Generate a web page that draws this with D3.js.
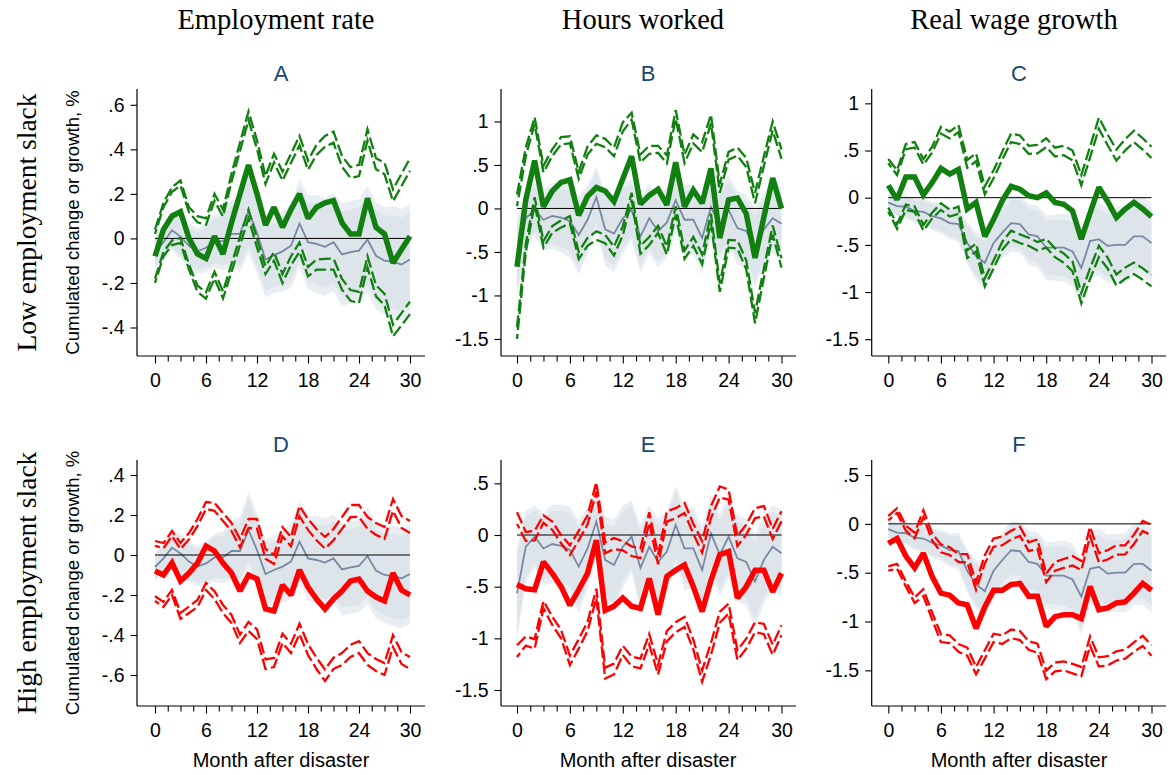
<!DOCTYPE html>
<html>
<head>
<meta charset="utf-8">
<script src="https://cdn.jsdelivr.net/npm/d3@7"></script>
<style>
  body { margin: 0; background: #fff; }
  svg text { font-family: "Liberation Sans", Arial, sans-serif; }
</style>
</head>
<body>
<svg id="chart"></svg>
<script>
// months after disaster
const months = [0,1,2,3,4,5,6,7,8,9,10,11,12,13,14,15,16,17,18,19,20,21,22,23,24,25,26,27,28,29,30]
const xTicks = [0, 6, 12, 18, 24, 30]

const colTitles = ["Employment rate", "Hours worked", "Real wage growth"]
const rowTitles = ["Low employment slack", "High employment slack"]
const panelLetters = ["A", "B", "C", "D", "E", "F"]
const yTitle = "Cumulated change or growth, %"
const xTitle = "Month after disaster"

const yTicksA = [-0.4, -0.2, 0, 0.2, 0.4, 0.6]
const yTicksB = [-1.5, -1, -0.5, 0, 0.5, 1]
const yTicksC = [-1.5, -1, -0.5, 0, 0.5, 1]
const yTicksD = [-0.6, -0.4, -0.2, 0, 0.2, 0.4]
const yTicksE = [-1.5, -1, -0.5, 0, 0.5]
const yTicksF = [-1.5, -1, -0.5, 0, 0.5]

// point estimates and 95% half-widths, low slack
const empLowEst = [-0.08, 0.04, 0.10, 0.12, 0.0, -0.07, -0.09, 0.01, -0.07, 0.07, 0.20, 0.33, 0.20, 0.06, 0.14, 0.05, 0.13, 0.20, 0.09, 0.14, 0.16, 0.17, 0.07, 0.02, 0.02, 0.18, 0.05, 0.02, -0.11, -0.05, 0.01]
const empLowMoe = [0.12, 0.12, 0.13, 0.14, 0.14, 0.17, 0.18, 0.19, 0.20, 0.22, 0.23, 0.24, 0.24, 0.22, 0.24, 0.25, 0.25, 0.26, 0.26, 0.28, 0.30, 0.31, 0.30, 0.30, 0.31, 0.31, 0.31, 0.32, 0.33, 0.34, 0.35]
const hoursLowEst = [-0.67, 0.10, 0.55, 0.02, 0.20, 0.30, 0.33, -0.08, 0.14, 0.24, 0.20, 0.08, 0.34, 0.60, 0.05, 0.15, 0.22, 0.04, 0.53, 0.02, 0.21, 0.06, 0.46, -0.34, 0.10, 0.12, -0.06, -0.57, -0.10, 0.35, 0.0]
const hoursLowMoe = [0.83, 0.60, 0.50, 0.47, 0.48, 0.52, 0.50, 0.50, 0.57, 0.60, 0.60, 0.62, 0.65, 0.50, 0.57, 0.57, 0.50, 0.57, 0.60, 0.60, 0.64, 0.70, 0.62, 0.62, 0.55, 0.58, 0.64, 0.75, 0.70, 0.65, 0.68]
const wageLowEst = [0.13, -0.02, 0.22, 0.22, 0.03, 0.16, 0.31, 0.25, 0.30, -0.12, -0.05, -0.41, -0.23, -0.03, 0.12, 0.09, 0.02, 0.0, 0.05, -0.05, -0.07, -0.14, -0.44, -0.16, 0.11, -0.04, -0.21, -0.12, -0.05, -0.12, -0.20]
const wageLowMoe = [0.28, 0.31, 0.35, 0.37, 0.38, 0.38, 0.44, 0.45, 0.47, 0.52, 0.52, 0.53, 0.52, 0.52, 0.56, 0.57, 0.53, 0.56, 0.58, 0.58, 0.62, 0.64, 0.68, 0.70, 0.74, 0.71, 0.72, 0.74, 0.76, 0.75, 0.74]

// high slack
const empHighEst = [-0.08, -0.10, -0.04, -0.13, -0.09, -0.04, 0.045, 0.02, -0.04, -0.09, -0.18, -0.10, -0.12, -0.27, -0.28, -0.15, -0.20, -0.075, -0.16, -0.22, -0.27, -0.22, -0.18, -0.13, -0.12, -0.18, -0.21, -0.23, -0.09, -0.175, -0.20]
const empHighMoe = [0.15, 0.16, 0.16, 0.19, 0.20, 0.22, 0.22, 0.24, 0.25, 0.25, 0.26, 0.28, 0.30, 0.30, 0.28, 0.29, 0.29, 0.32, 0.34, 0.35, 0.36, 0.35, 0.37, 0.38, 0.37, 0.37, 0.37, 0.37, 0.37, 0.37, 0.37]
const hoursHighEst = [-0.48, -0.52, -0.53, -0.26, -0.37, -0.50, -0.68, -0.53, -0.37, -0.05, -0.73, -0.69, -0.61, -0.69, -0.71, -0.42, -0.77, -0.40, -0.34, -0.29, -0.50, -0.74, -0.44, -0.19, -0.16, -0.61, -0.50, -0.34, -0.34, -0.55, -0.37]
const hoursHighMoe = [0.70, 0.55, 0.57, 0.45, 0.50, 0.50, 0.58, 0.57, 0.56, 0.56, 0.66, 0.66, 0.55, 0.58, 0.58, 0.64, 0.58, 0.63, 0.60, 0.60, 0.61, 0.68, 0.72, 0.66, 0.60, 0.60, 0.60, 0.60, 0.62, 0.61, 0.60]
const wageHighEst = [-0.20, -0.15, -0.33, -0.45, -0.30, -0.54, -0.71, -0.73, -0.81, -0.83, -1.07, -0.85, -0.68, -0.68, -0.62, -0.61, -0.74, -0.74, -1.05, -0.95, -0.93, -0.93, -0.97, -0.64, -0.88, -0.86, -0.81, -0.80, -0.71, -0.61, -0.68]
const wageHighMoe = [0.28, 0.31, 0.31, 0.36, 0.44, 0.44, 0.50, 0.49, 0.50, 0.52, 0.47, 0.53, 0.53, 0.55, 0.55, 0.58, 0.55, 0.58, 0.54, 0.56, 0.57, 0.60, 0.59, 0.61, 0.58, 0.59, 0.59, 0.58, 0.60, 0.64, 0.67]

// unconditional (all disasters) response, grey line + band
const empBase = [-0.06, -0.017, 0.037, 0.008, -0.033, -0.058, -0.042, -0.012, -0.012, 0.02, 0.02, 0.125, 0.025, -0.095, -0.075, -0.058, -0.033, 0.067, -0.017, -0.025, -0.038, -0.017, -0.072, -0.062, -0.055, -0.005, -0.078, -0.10, -0.105, -0.117, -0.095]
const empBaseMoe = [0.07, 0.08, 0.09, 0.10, 0.10, 0.10, 0.11, 0.12, 0.13, 0.15, 0.17, 0.19, 0.18, 0.17, 0.17, 0.18, 0.19, 0.20, 0.21, 0.22, 0.22, 0.22, 0.23, 0.23, 0.23, 0.24, 0.24, 0.24, 0.25, 0.25, 0.25]
const hoursBase = [-0.565, -0.113, -0.016, -0.13, -0.087, -0.106, -0.145, -0.306, -0.13, 0.13, -0.24, -0.29, -0.113, -0.016, -0.32, -0.113, -0.26, -0.16, 0.097, -0.13, -0.13, -0.34, 0.016, -0.19, -0.016, -0.226, -0.26, -0.45, -0.24, -0.113, -0.177]
const hoursBaseMoe = [0.45, 0.35, 0.30, 0.35, 0.38, 0.40, 0.42, 0.45, 0.40, 0.35, 0.42, 0.44, 0.40, 0.35, 0.42, 0.40, 0.42, 0.40, 0.38, 0.40, 0.40, 0.42, 0.38, 0.40, 0.40, 0.42, 0.42, 0.45, 0.42, 0.40, 0.42]
const wageBase = [-0.053, -0.09, -0.096, -0.14, -0.15, -0.195, -0.22, -0.27, -0.28, -0.48, -0.62, -0.69, -0.48, -0.37, -0.27, -0.28, -0.39, -0.41, -0.53, -0.53, -0.53, -0.57, -0.745, -0.46, -0.44, -0.51, -0.50, -0.50, -0.41, -0.41, -0.48]
const wageBaseMoe = [0.10, 0.11, 0.12, 0.13, 0.14, 0.15, 0.16, 0.17, 0.19, 0.22, 0.25, 0.28, 0.28, 0.28, 0.30, 0.30, 0.32, 0.33, 0.34, 0.35, 0.36, 0.37, 0.38, 0.38, 0.39, 0.40, 0.40, 0.41, 0.42, 0.42, 0.43]

const Z90 = 1.645, Z95 = 1.96

const green = "#118011"
const red = "#ff0000"
const greyLine = "#7788a2"
const band95 = "#e9eef2"
const band90 = "#dde5eb"
const letterColor = "#1a476f"
const serif = "'Liberation Serif', 'Times New Roman', serif"

const W = 1172, H = 775
const svg = d3.select("#chart").attr("width", W).attr("height", H)

// layout per column / row (pixels)
const cols = [
  { xr: [155, 410], axisX: 137, right: 425, cx: 281 },
  { xr: [517, 781.5], axisX: 501, right: 796, cx: 648 },
  { xr: [888.3, 1151.5], axisX: 871.7, right: 1166, cx: 1019 }
]
const rows = [
  { top: 89, bottom: 356 },
  { top: 460, bottom: 706 }
]

const panels = [
  { row: 0, col: 0, est: empLowEst, moe: empLowMoe, base: empBase, baseMoe: empBaseMoe, ticks: yTicksA, yd: [-0.528, 0.671], color: green },
  { row: 0, col: 1, est: hoursLowEst, moe: hoursLowMoe, base: hoursBase, baseMoe: hoursBaseMoe, ticks: yTicksB, yd: [-1.696, 1.373], color: green },
  { row: 0, col: 2, est: wageLowEst, moe: wageLowMoe, base: wageBase, baseMoe: wageBaseMoe, ticks: yTicksC, yd: [-1.678, 1.152], color: green },
  { row: 1, col: 0, est: empHighEst, moe: empHighMoe, base: empBase, baseMoe: empBaseMoe, ticks: yTicksD, yd: [-0.755, 0.475], color: red },
  { row: 1, col: 1, est: hoursHighEst, moe: hoursHighMoe, base: hoursBase, baseMoe: hoursBaseMoe, ticks: yTicksE, yd: [-1.655, 0.726], color: red },
  { row: 1, col: 2, est: wageHighEst, moe: wageHighMoe, base: wageBase, baseMoe: wageBaseMoe, ticks: yTicksF, yd: [-1.865, 0.654], color: red }
]

// Stata style numbers: .5, -.2
const fmt = v => {
  if (v === 0) return "0"
  return String(+v.toFixed(2)).replace(/^(-?)0\./, "$1.")
}

const minorTicks = d3.range(0, 30.01, 1.5).filter(v => v % 6 !== 0)

panels.forEach((p, i) => {
  const c = cols[p.col], r = rows[p.row]
  const x = d3.scaleLinear().domain([0, 30]).range(c.xr)
  const y = d3.scaleLinear().domain(p.yd).range([r.bottom, r.top])
  const g = svg.append("g")

  const area = (mid, moe, z) => d3.area()
    .x((d, j) => x(months[j]))
    .y0((d, j) => y(mid[j] - moe[j] * z / Z95))
    .y1((d, j) => y(mid[j] + moe[j] * z / Z95))
  const line = (vals) => d3.line().x((d, j) => x(months[j])).y((d, j) => y(vals[j]))

  // shaded band of the unconditional response
  g.append("path").datum(months).attr("d", area(p.base, p.baseMoe, Z95)).attr("fill", band95)
  g.append("path").datum(months).attr("d", area(p.base, p.baseMoe, Z90)).attr("fill", band90)
  g.append("path").datum(months).attr("d", line(p.base))
    .attr("fill", "none").attr("stroke", greyLine).attr("stroke-width", 1.8)

  // zero line
  g.append("line")
    .attr("x1", x(0)).attr("x2", x(30))
    .attr("y1", y(0)).attr("y2", y(0))
    .attr("stroke", "#000").attr("stroke-width", 1)

  // confidence bounds (90% and 95%), dashed
  const bounds = [
    p.est.map((v, j) => v + p.moe[j]),
    p.est.map((v, j) => v + p.moe[j] * Z90 / Z95),
    p.est.map((v, j) => v - p.moe[j] * Z90 / Z95),
    p.est.map((v, j) => v - p.moe[j])
  ]
  bounds.forEach((b, k) => {
    g.append("path").datum(months).attr("d", line(b))
      .attr("fill", "none").attr("stroke", p.color).attr("stroke-width", 2.3)
      .attr("stroke-dasharray", "12,4")
      .attr("stroke-dashoffset", k % 2 ? 7 : 0)
  })

  // point estimate
  g.append("path").datum(months).attr("d", line(p.est))
    .attr("fill", "none").attr("stroke", p.color).attr("stroke-width", 5.5)
    .attr("stroke-linejoin", "miter").attr("stroke-miterlimit", 2)

  // axes
  const ya = g.append("g").attr("transform", `translate(${c.axisX},0)`)
    .call(d3.axisLeft(y).tickValues(p.ticks).tickFormat(fmt).tickSize(6.5).tickPadding(6))
  ya.select(".domain").remove()
  ya.append("line").attr("x1", 0).attr("x2", 0).attr("y1", r.top).attr("y2", r.bottom)
    .attr("stroke", "#000").attr("stroke-width", 1.2)

  const xa = g.append("g").attr("transform", `translate(0,${r.bottom})`)
    .call(d3.axisBottom(x).tickValues(xTicks).tickFormat(d3.format("d")).tickSize(7.5).tickPadding(10))
  xa.select(".domain").remove()
  xa.append("line").attr("x1", c.axisX).attr("x2", c.right).attr("y1", 0).attr("y2", 0)
    .attr("stroke", "#000").attr("stroke-width", 1.2)
  const xm = g.append("g").attr("transform", `translate(0,${r.bottom})`)
    .call(d3.axisBottom(x).tickValues(minorTicks).tickFormat("").tickSize(5.5))
  xm.select(".domain").remove()

  g.selectAll(".tick text").attr("font-size", 19.5).attr("fill", "#000")
    .attr("font-family", "Liberation Sans, Arial, sans-serif")
  g.selectAll(".tick line").attr("stroke", "#000").attr("stroke-width", 1.1)

  // panel letter
  g.append("text").attr("x", c.cx).attr("y", r.top - 8)
    .attr("text-anchor", "middle").attr("font-size", 22).attr("fill", letterColor)
    .text(panelLetters[i])

  if (p.row === 1) {
    g.append("text").attr("x", c.cx).attr("y", 767)
      .attr("text-anchor", "middle").attr("font-size", 20).attr("fill", "#000")
      .text(xTitle)
  }
  if (p.col === 0) {
    const cy = (r.top + r.bottom) / 2
    g.append("text").attr("transform", `translate(79,${cy}) rotate(-90)`)
      .attr("text-anchor", "middle").attr("font-size", 18.5).attr("fill", "#000")
      .text(yTitle)
  }
})

// column headers and row headers (serif)
colTitles.forEach((t, k) => {
  svg.append("text").attr("x", cols[k].cx - 5).attr("y", 29)
    .attr("text-anchor", "middle").attr("font-size", 28.5)
    .style("font-family", serif)
    .attr("fill", "#000").text(t)
})
rowTitles.forEach((t, k) => {
  const cy = (rows[k].top + rows[k].bottom) / 2
  svg.append("text").attr("transform", `translate(36,${cy}) rotate(-90)`)
    .attr("text-anchor", "middle").attr("font-size", 27.5)
    .style("font-family", serif)
    .attr("fill", "#000").text(t)
})
</script>
</body>
</html>
